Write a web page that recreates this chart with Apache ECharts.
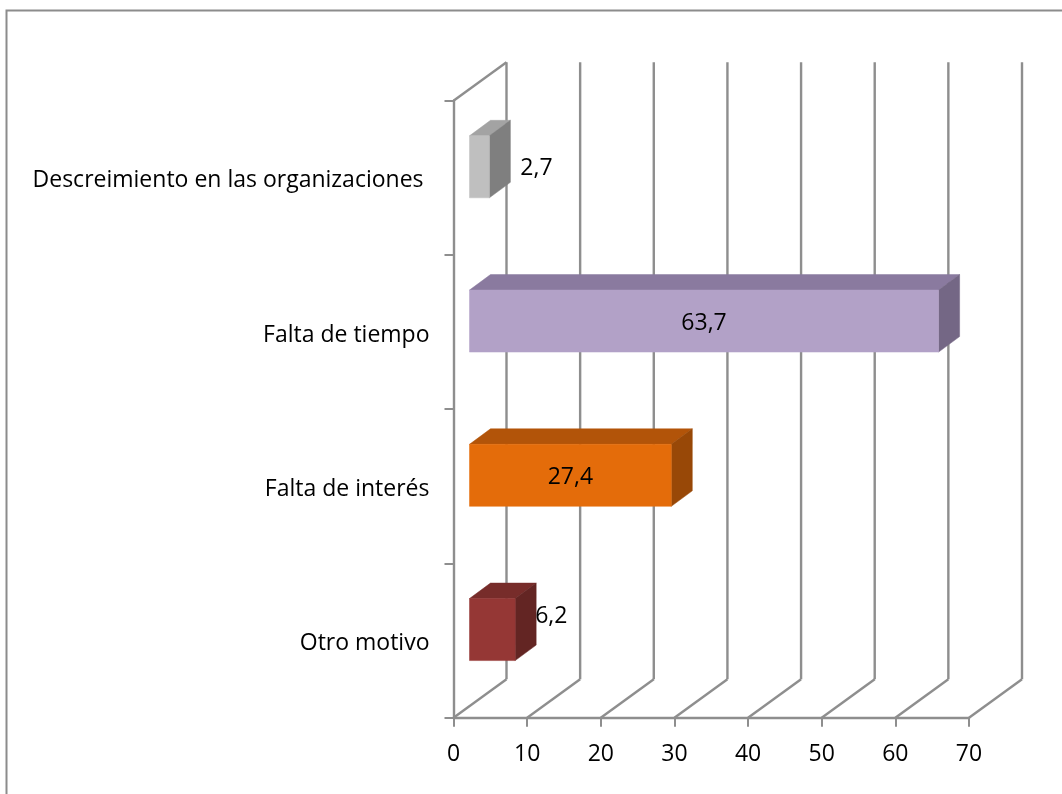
<!DOCTYPE html>
<html>
<head>
<meta charset="utf-8">
<style>html,body{margin:0;padding:0;background:#fff}#c{width:1062px;height:794px}</style>
<script src="https://cdn.jsdelivr.net/npm/echarts@6/dist/echarts.min.js"></script>
</head>
<body>
<div id="c"></div>
<script>
const categories = ['Otro motivo', 'Falta de interés', 'Falta de tiempo', 'Descreimiento en las organizaciones '];
const values = [6.2, 27.4, 63.7, 2.7];
const valueLabels = ['6,2', '27,4', '63,7', '2,7'];
const wallTicks = [0, 10, 20, 30, 40, 50, 60, 70];

const frontColors = ['#953735', '#E46C0A', '#B2A1C7', '#BFBFBF'];
const topColors = ['#772C2A', '#B25409', '#8A7A9F', '#A3A3A3'];
const sideColors = ['#632523', '#984807', '#746785', '#7F7F7F'];
const labelShift = [[59, -13], [0, 2], [0, 2], [57, 2]];

const AXIS = '#8E8E8E', FONT = '"Open Sans"', TXT = '#000', FS = 23;
const WALL = [53, -38.5], NEAR = [16, -11], BOX = [21, -15.5], BAR_H = 62;

const chart = echarts.init(document.getElementById('c'), null, { renderer: 'canvas' });

function poly(points, fill) {
  return { type: 'polygon', shape: { points }, style: { fill, stroke: fill, lineWidth: 0.5 } };
}
function seg(x1, y1, x2, y2) {
  return { type: 'line', shape: { x1, y1, x2, y2 }, style: { stroke: AXIS, lineWidth: 2.4, fill: null } };
}

chart.setOption({
  animation: false,
  backgroundColor: '#fff',
  graphic: [{
    type: 'rect', silent: true, z: -1,
    shape: { x: 6.5, y: 10.5, width: 1100, height: 800 },
    style: { fill: '#fff', stroke: '#8C8C8C', lineWidth: 2 }
  }],
  grid: { left: 453.5, width: 515.5, top: 100.7, height: 617, containLabel: false },
  xAxis: {
    type: 'value', min: 0, max: 70, interval: 10,
    axisLine: { show: true, lineStyle: { color: AXIS, width: 2.4 } },
    axisTick: { show: true, length: 9, lineStyle: { color: AXIS, width: 2 } },
    axisLabel: { color: TXT, fontFamily: FONT, fontSize: FS, margin: 25, hideOverlap: false },
    splitLine: { show: false }
  },
  yAxis: {
    type: 'category', data: categories,
    axisLine: { show: true, onZero: false, lineStyle: { color: AXIS, width: 2.4 } },
    axisTick: { show: true, length: 9, lineStyle: { color: AXIS, width: 2 } },
    axisLabel: { color: TXT, fontFamily: FONT, fontSize: FS, margin: 24, interval: 0, verticalAlign: 'top', lineHeight: 6 },
    splitLine: { show: false }
  },
  series: [{
    // back wall + floor lines
    type: 'custom', silent: true, z: 1, clip: false,
    coordinateSystem: 'cartesian2d',
    data: wallTicks.map(v => [v]),
    encode: { x: 0 },
    renderItem(params, api) {
      const v = api.value(0);
      const base = api.coord([v, 0]);
      const floorY = params.coordSys.y + params.coordSys.height;
      const topY = params.coordSys.y;
      const x = base[0];
      const children = [
        seg(x, floorY, x + WALL[0], floorY + WALL[1]),
        seg(x + WALL[0], floorY + WALL[1], x + WALL[0], topY + WALL[1])
      ];
      if (v === 0) children.push(seg(x, topY, x + WALL[0], topY + WALL[1]));
      return { type: 'group', children };
    }
  }, {
    // 3D bars
    type: 'custom', silent: true, z: 3, clip: false,
    coordinateSystem: 'cartesian2d',
    data: values.map((v, i) => [v, i]),
    encode: { x: 0, y: 1 },
    renderItem(params, api) {
      const i = params.dataIndex;
      const end = api.coord([api.value(0), api.value(1)]);
      const start = api.coord([0, api.value(1)]);
      const x0 = start[0] + NEAR[0], x1 = end[0] + NEAR[0];
      const yc = end[1] + NEAR[1];
      const y0 = yc - BAR_H / 2, y1 = yc + BAR_H / 2;
      const [dx, dy] = BOX;
      const shift = labelShift[i];
      return {
        type: 'group',
        children: [
          poly([[x0, y0], [x1, y0], [x1 + dx, y0 + dy], [x0 + dx, y0 + dy]], topColors[i]),
          poly([[x1, y0], [x1 + dx, y0 + dy], [x1 + dx, y1 + dy], [x1, y1]], sideColors[i]),
          poly([[x0, y0], [x1, y0], [x1, y1], [x0, y1]], frontColors[i]),
          {
            type: 'text', z2: 10,
            style: {
              text: valueLabels[i], x: (x0 + x1) / 2 + shift[0], y: yc + shift[1],
              align: 'center', verticalAlign: 'middle',
              fill: TXT, font: FS + 'px ' + FONT
            }
          }
        ]
      };
    }
  }]
});
</script>
</body>
</html>
